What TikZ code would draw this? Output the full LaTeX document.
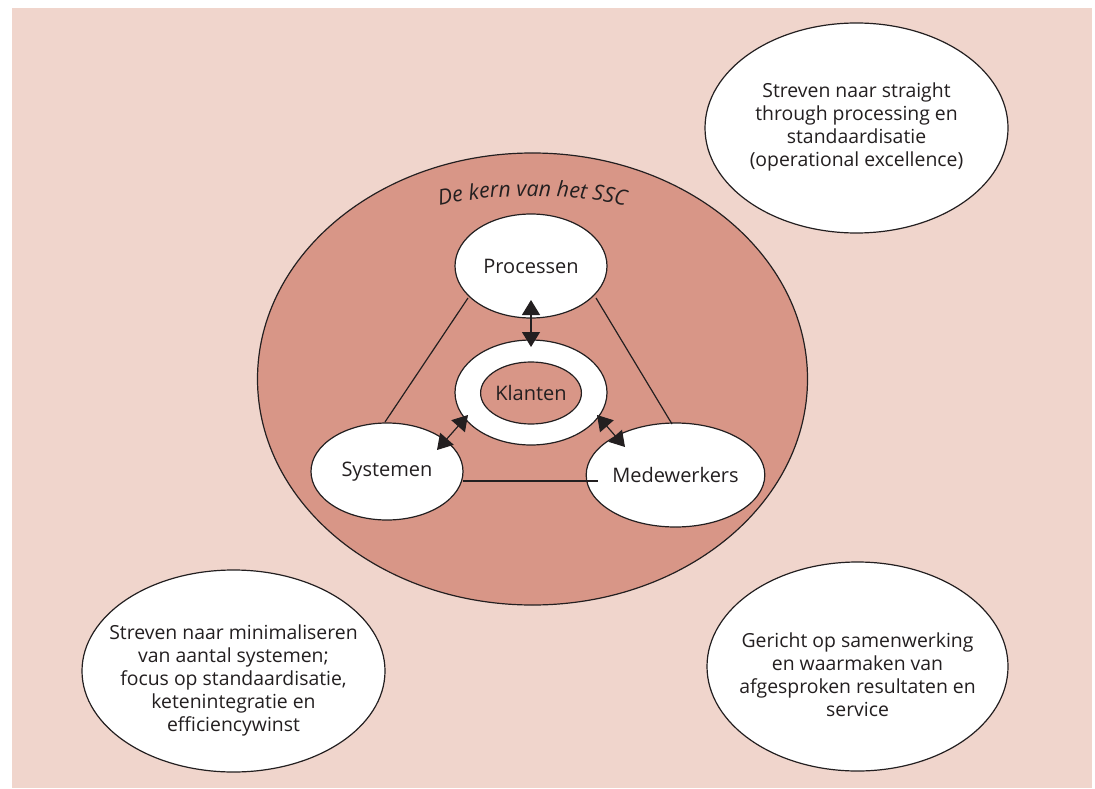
\documentclass[tikz,border=0pt]{standalone}
\usepackage{fontspec}
\setmainfont{Open Sans}
\usetikzlibrary{shapes.geometric,calc,arrows.meta,decorations.text}
\definecolor{bgpink}{RGB}{240,213,204}
\definecolor{corered}{RGB}{216,150,135}
\definecolor{txt}{RGB}{35,31,32}
\tikzset{
  oval/.style={ellipse, draw=txt, fill=white, line width=0.6pt, inner sep=0pt, align=center, text=txt},
  inlab/.style={font=\fontsize{10}{12}\selectfont},
  outlab/.style={font=\fontsize{9.7}{11.5}\selectfont, align=center, text=txt, inner sep=0pt},
  link/.style={draw=txt, line width=0.6pt},
  biarrow/.style={draw=txt, line width=0.6pt, {Triangle[length=7.5pt,width=9pt]}-{Triangle[length=7.5pt,width=9pt]}}
}
\begin{document}
\begin{tikzpicture}[x=0.5pt,y=0.5pt]
\useasboundingbox (0,0) rectangle (1095,788);
\fill[bgpink] (12,0) rectangle (1092,780);
% core ellipse
\node[ellipse, draw=txt, fill=corered, line width=0.6pt, minimum width=275pt, minimum height=226pt, inner sep=0pt] (core) at (532.5,409) {};
% curved title
\path[decorate, decoration={text along path, text align=center,
  text={|\fontsize{10.7}{12}\selectfont\itshape\color{txt}|De kern van het SSC}}]
  (532.5,409) ++(112:293 and 183) arc[start angle=112, end angle=68, x radius=293, y radius=183];
% inner nodes
\node[oval, inlab, minimum width=76pt, minimum height=52pt] (proc) at (531,522) {Processen};
\node[oval, minimum width=76pt, minimum height=52.5pt] (klout) at (531,395.5) {};
\node[ellipse, draw=txt, fill=corered, line width=0.6pt, inner sep=0pt, inlab, text=txt, minimum width=44pt, minimum height=31pt] (klant) at (531,395) {Klanten};
\node[oval, inlab, minimum width=76pt, minimum height=48.5pt] (sys) at (387,316.5) {Systemen};
\node[oval, inlab, minimum width=77pt, minimum height=52pt] (med) at (675.5,313) {Medewerkers};
% triangle links
\draw[link] ($(proc.center)+(-63,-32)$) -- ($(sys.center)+(-2,49.5)$);
\draw[link] ($(proc.center)+(65,-32)$) -- ($(med.center)+(-3.5,51)$);
\draw[link] ($(sys.center)+(76,-9.5)$) -- ($(med.center)+(-77.5,-6)$);
% arrows
\draw[biarrow] ($(proc.center)+(0,-34)$) -- ($(klout.center)+(0,45.5)$);
\draw[biarrow] ($(sys.center)+(50,21.5)$) -- ($(klout.center)+(-63,-22.5)$);
\draw[biarrow] ($(klout.center)+(66,-22.5)$) -- ($(med.center)+(-50.5,28)$);
% outer ellipses
\node[oval, minimum width=151.5pt, minimum height=105pt,
  label={[outlab, yshift=0.5pt]center:{Streven naar straight\\through processing en\\standaardisatie\\(operational excellence)}}] (tr) at (856.5,660) {};
\node[oval, minimum width=151.5pt, minimum height=101pt,
  label={[outlab, yshift=-4.5pt]center:{Streven naar minimaliseren\\van aantal systemen;\\focus op standaardisatie,\\ketenintegratie en\\efficiencywinst}}] (bl) at (233.5,117) {};
\node[oval, minimum width=150.5pt, minimum height=104.5pt,
  label={[outlab, yshift=-4pt]center:{Gericht op samenwerking\\en waarmaken van\\afgesproken resultaten en\\service}}] (br) at (857.5,121.5) {};
\end{tikzpicture}
\end{document}
